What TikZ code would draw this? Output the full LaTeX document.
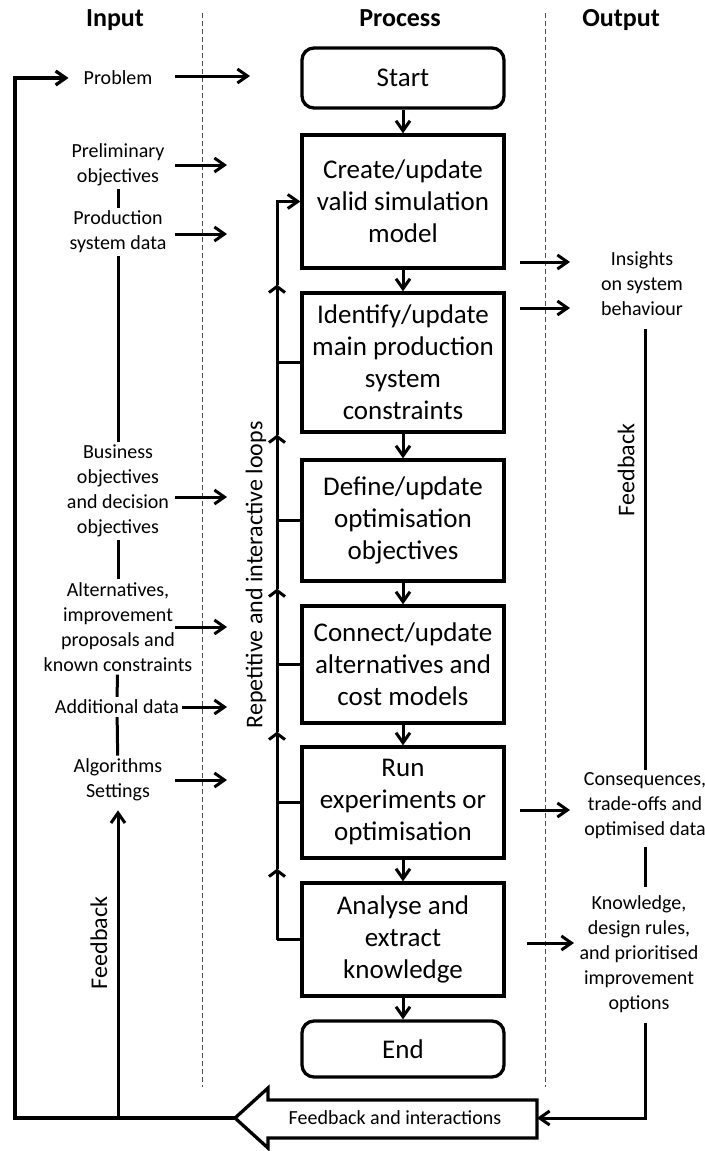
\documentclass[tikz,border=0pt]{standalone}
\usepackage{fontspec}
\setmainfont{Carlito}
\usetikzlibrary{arrows.meta,calc}

\begin{document}
\begin{tikzpicture}[x=1pt,y=-1pt,
  proc/.style={draw, line width=3.3pt, minimum width=202pt, align=center,
    font=\fontsize{27}{32}\selectfont, inner sep=0pt},
  term/.style={proc, rounded corners=12pt},
  side/.style={align=center, font=\fontsize{20}{25}\selectfont, inner sep=3pt},
  head/.style={font=\fontsize{26}{30}\selectfont\bfseries, anchor=base},
  vlabel/.style={rotate=90, font=\fontsize{24}{28}\selectfont, inner sep=0pt},
  arr/.style={-{Straight Barb[length=10pt,width=14pt]}, line width=3pt},
  loopup/.style={-{Straight Barb[length=6pt,width=16pt]}, line width=3pt},
  link/.style={line width=3pt},
  divider/.style={dash pattern=on 5pt off 3pt, line width=1pt, black!70}
]
\useasboundingbox (0,0) rectangle (704,1151);

% column headings and separators
\node[head] (hin)   at (115,27) {Input};
\node[head] (hproc) at (400,27) {Process};
\node[head] (hout)  at (621,27) {Output};
\draw[divider] (202,13) -- (202,1087);
\draw[divider] (545,13) -- (545,1087);

% process chain
\node[term, minimum height=60pt]  (start)   at (403,78)    {Start};
\node[proc, minimum height=133pt] (create)  at (403,201.5) {Create/update\\valid simulation\\model};
\node[proc, minimum height=139pt] (ident)   at (403,362.5) {Identify/update\\main production\\system\\constraints};
\node[proc, minimum height=121pt] (define)  at (403,520.5) {Define/update\\optimisation\\objectives};
\node[proc, minimum height=117pt] (connect) at (403,664.5) {Connect/update\\alternatives and\\cost models};
\node[proc, minimum height=111pt] (run)     at (403,802.5) {Run\\experiments or\\optimisation};
\node[proc, minimum height=113pt] (analyse) at (403,939.5) {Analyse and\\extract\\knowledge};
\node[term, minimum height=56pt]  (end)     at (403,1049)  {End};

\foreach \a/\b in {start/create, create/ident, ident/define, define/connect,
                   connect/run, run/analyse, analyse/end}
  \draw[arr] (\a.south) -- (\b.north);

% repetitive and interactive loops
\coordinate (lx) at (277,0);
\draw[link] (analyse.west) -- (analyse.west -| lx);
\draw[loopup] (analyse.west -| lx) -- ($(run.south -| lx)+(0,9)$);
\draw[loopup] ($(run.south -| lx)+(0,9)$) -- ($(connect.south -| lx)+(0,7)$);
\draw[loopup] ($(connect.south -| lx)+(0,7)$) -- ($(define.south -| lx)+(0,6)$);
\draw[loopup] ($(define.south -| lx)+(0,6)$) -- ($(ident.south -| lx)+(0,1)$);
\draw[loopup] ($(ident.south -| lx)+(0,1)$) -- ($(create.south -| lx)+(0,15)$);
\draw[arr] ($(create.south -| lx)+(0,15)$) -- (create.west -| lx) -- (create.west);
\foreach \b in {ident,define,connect,run}
  \draw[link] (\b.west -| lx) -- (\b.west);
\node[vlabel] (loops) at (256,575) {Repetitive and interactive loops};

% inputs
\node[side] (prob)   at (118,78)  {Problem};
\node[side] (prelim) at (118,165) {Preliminary\\objectives};
\node[side] (prod)   at (118,232) {Production\\system data};
\node[side] (biz)    at (118,491) {Business\\objectives\\and decision\\objectives};
\node[side] (alt)    at (118,627) {Alternatives,\\improvement\\proposals and\\known constraints};
\node[side] (add)    at (117,707) {Additional data};
\node[side] (algo)   at (118,780) {Algorithms\\Settings};

\draw[link] (prelim) -- (prod);
\draw[link] (prod) -- (biz);
\draw[link] (biz) -- (alt);
\draw[link] (alt) -- (add);
\draw[link] (add) -- (algo);

\coordinate (inA) at (175,0);
\coordinate (inB) at (227,0);
\coordinate (inP) at (250,0);
\draw[arr] ($(inA |- prob)+(0,-2)$) -- ($(inP |- prob)+(0,-2)$);
\draw[arr] (inA |- prelim) -- (inB |- prelim);
\draw[arr] ($(inA |- prod)+(0,2)$) -- ($(inB |- prod)+(0,2)$);
\draw[arr] ($(inA |- biz)+(0,6)$) -- ($(inB |- biz)+(0,6)$);
\draw[arr] (inA |- alt) -- (inB |- alt);
\draw[arr] (add.east) -- (inB |- add);
\draw[arr] (inA |- algo) -- (inB |- algo);

% outputs
\node[side] (ins)  at (642,284) {Insights\\on system\\behaviour};
\node[side] (cons) at (645,806) {Consequences,\\trade-offs and\\optimised data};
\node[side] (know) at (639,954) {Knowledge,\\design rules,\\and prioritised\\improvement\\options};

\coordinate (outA) at (520,0);
\coordinate (outB) at (570,0);
\draw[arr] ($(outA |- ins)+(0,-22)$) -- ($(outB |- ins)+(0,-22)$);
\draw[arr] ($(outA |- ins)+(0,24)$) -- ($(outB |- ins)+(0,24)$);
\draw[arr] ($(outA |- cons)+(0,4)$) -- ($(outB |- cons)+(0,4)$);
\draw[arr] ($(outA |- know)+(7,-11)$) -- ($(outB |- know)+(4,-11)$);

\coordinate (ox) at (645,0);
\draw[link, shorten <=10pt] (ins.south -| ox) -- (cons.north -| ox);
\draw[link, shorten <=5pt, shorten >=5pt] (cons.south -| ox) -- (know.north -| ox);
\node[vlabel] (fbR) at (626,470) {Feedback};

% feedback and interactions block arrow
\coordinate (fbtip)  at (235,1118);
\coordinate (fbtail) at (537,1118);
\node[side] (fbi) at (395,1118) {Feedback and interactions};
\draw[line width=3.3pt, line join=miter]
  (fbtip) -- (268,1088) -- (268,1100) -- (537,1100) -- (537,1138)
  -- (268,1138) -- (268,1148) -- cycle;
\draw[arr, shorten <=7pt] (know.south -| ox) -- (ox |- fbtail) -- (fbtail);

% feedback to the inputs
\coordinate (lx0) at (15,0);
\draw[arr, line width=3.3pt, shorten >=12pt] (fbtip) -- (fbtip -| lx0) -- (lx0 |- prob) -- (prob.west);
\draw[arr, shorten >=6pt] (fbtip -| algo) -- (algo.south);
\node[vlabel] (fbL) at (99,943) {Feedback};
\end{tikzpicture}
\end{document}
